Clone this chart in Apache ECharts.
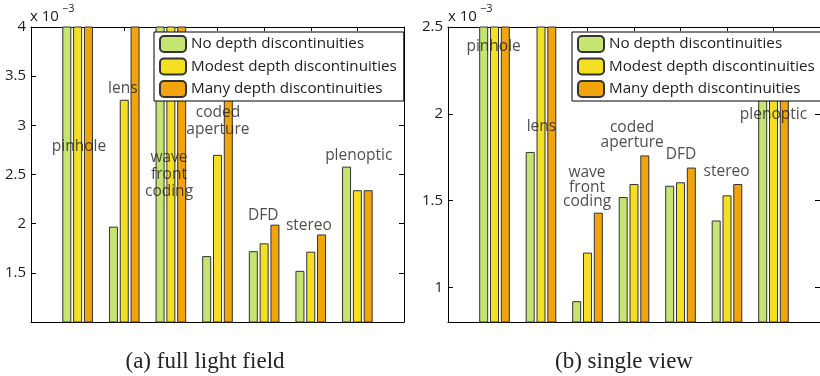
<!DOCTYPE html>
<html>
<head>
<meta charset="utf-8">
<script src="https://cdn.jsdelivr.net/npm/echarts@6/dist/echarts.min.js"></script>
<style>
html, body { margin: 0; padding: 0; background: #fff; }
#main { width: 820px; height: 376px; }
</style>
</head>
<body>
<div id="main"></div>
<script>
// methods along x, one group of three bars each
const categories = ['pinhole', 'lens', 'wave\nfront\ncoding', 'coded\naperture', 'DFD', 'stereo', 'plenoptic']
const seriesNames = ['No depth discontinuities', 'Modest depth discontinuities', 'Many depth discontinuities']

// (a) full light field, values in units of 1e-3 (bars above 4 run off the top)
const fullNone = [4.6, 1.97, 4.5, 1.67, 1.72, 1.52, 2.58]
const fullModest = [4.7, 3.26, 4.6, 2.70, 1.80, 1.715, 2.34]
const fullMany = [4.8, 4.3, 4.7, 3.6, 1.99, 1.89, 2.34]

// (b) single view, values in units of 1e-3 (bars above 2.5 run off the top)
const singleNone = [2.8, 1.78, 0.92, 1.52, 1.585, 1.385, 2.3]
const singleModest = [2.9, 2.7, 1.20, 1.595, 1.605, 1.53, 2.32]
const singleMany = [3.0, 2.8, 1.43, 1.76, 1.69, 1.595, 2.3]

const fullTicks = [1.5, 2, 2.5, 3, 3.5, 4]
const singleTicks = [1, 1.5, 2, 2.5]

// where the method names are written, in data units [x, y]
const fullLabelAt = [[1.03, 2.78], [1.97, 3.37], [2.96, 2.5], [4.01, 3.04], [4.98, 2.08], [5.96, 1.98], [7.03, 2.69]]
const singleLabelAt = [[0.98, 2.39], [2.01, 1.924], [2.99, 1.575], [3.96, 1.878], [5.01, 1.763], [5.99, 1.665], [7.0, 1.993]]

const colors = ['#c6e472', '#f4df22', '#f1a40c']
const font = 'Open Sans'

const chart = echarts.init(document.getElementById('main'))

function xAxes(gi) {
	return ['bottom', 'top'].map(pos => ({
		type: 'value',
		gridIndex: gi,
		position: pos,
		min: 0,
		max: 8,
		axisLine: { show: true, onZero: false, lineStyle: { color: '#000', width: 1 } },
		axisTick: { show: true, inside: true, length: 4, customValues: [1, 2, 3, 4, 5, 6, 7], lineStyle: { color: '#000' } },
		axisLabel: { show: false },
		splitLine: { show: false }
	}))
}

function yAxes(gi, min, max, ticks) {
	return ['left', 'right'].map(pos => ({
		type: 'value',
		gridIndex: gi,
		position: pos,
		min: min,
		max: max,
		axisLine: { show: true, onZero: false, lineStyle: { color: '#000', width: 1 } },
		axisTick: { show: true, inside: true, length: 5, customValues: ticks, lineStyle: { color: '#000' } },
		axisLabel: {
			show: pos === 'left',
			customValues: ticks,
			color: '#1e1e1e',
			fontSize: 15,
			fontFamily: font,
			margin: 5
		},
		splitLine: { show: false }
	}))
}

function bars(gi, lists) {
	return lists.map((vals, k) => ({
		type: 'bar',
		name: seriesNames[k],
		xAxisIndex: gi * 2,
		yAxisIndex: gi * 2,
		data: vals.map((v, i) => [i + 1, v]),
		barWidth: 9,
		barGap: '20%',
		itemStyle: { color: colors[k], borderColor: '#333', borderWidth: 1 },
		silent: true
	}))
}

function names(gi, at, lh) {
	return {
		type: 'scatter',
		name: 'names' + gi,
		xAxisIndex: gi * 2,
		yAxisIndex: gi * 2,
		symbolSize: 0,
		z: 5,
		silent: true,
		data: at.map((p, i) => ({ value: p, name: categories[i] })),
		label: {
			show: true,
			position: 'inside',
			formatter: p => p.name,
			fontFamily: font,
			fontSize: 15.5,
			color: '#222',
			lineHeight: lh
		}
	}
}

function legendAt(left) {
	return {
		left: left,
		top: 32,
		orient: 'vertical',
		data: seriesNames,
		selectedMode: false,
		backgroundColor: '#fff',
		borderColor: '#000',
		borderWidth: 1,
		padding: [3, 7, 3, 5],
		itemWidth: 26,
		itemHeight: 16,
		itemGap: 4.5,
		z: 10,
		textStyle: { fontFamily: font, fontSize: 15.2, color: '#222' }
	}
}

const option = {
	animation: false,
	grid: [
		{ left: 31, top: 27, width: 373, height: 295 },
		{ left: 448, top: 27, width: 374, height: 295 }
	],
	xAxis: [...xAxes(0), ...xAxes(1)],
	yAxis: [...yAxes(0, 1, 4, fullTicks), ...yAxes(1, 0.8, 2.5, singleTicks)],
	legend: [legendAt(154), legendAt(572)],
	series: [
		...bars(0, [fullNone, fullModest, fullMany]),
		...bars(1, [singleNone, singleModest, singleMany]),
		names(0, fullLabelAt, 17),
		names(1, singleLabelAt, 14.5)
	],
	graphic: [
		{ type: 'text', x: 30, y: 17, style: { text: 'x 10', font: '15px "Open Sans"', fill: '#1e1e1e', verticalAlign: 'middle' } },
		{ type: 'text', x: 62, y: 9, style: { text: '\u22123', font: '11px "Open Sans"', fill: '#1e1e1e', verticalAlign: 'middle' } },
		{ type: 'text', x: 448, y: 17, style: { text: 'x 10', font: '15px "Open Sans"', fill: '#1e1e1e', verticalAlign: 'middle' } },
		{ type: 'text', x: 480, y: 9, style: { text: '\u22123', font: '11px "Open Sans"', fill: '#1e1e1e', verticalAlign: 'middle' } },
		{ type: 'text', x: 205, y: 362, style: { text: '(a) full light field', font: '23px "Liberation Serif"', fill: '#222', align: 'center', verticalAlign: 'middle' } },
		{ type: 'text', x: 624, y: 362, style: { text: '(b) single view', font: '23px "Liberation Serif"', fill: '#222', align: 'center', verticalAlign: 'middle' } }
	]
}

chart.setOption(option)
</script>
</body>
</html>
